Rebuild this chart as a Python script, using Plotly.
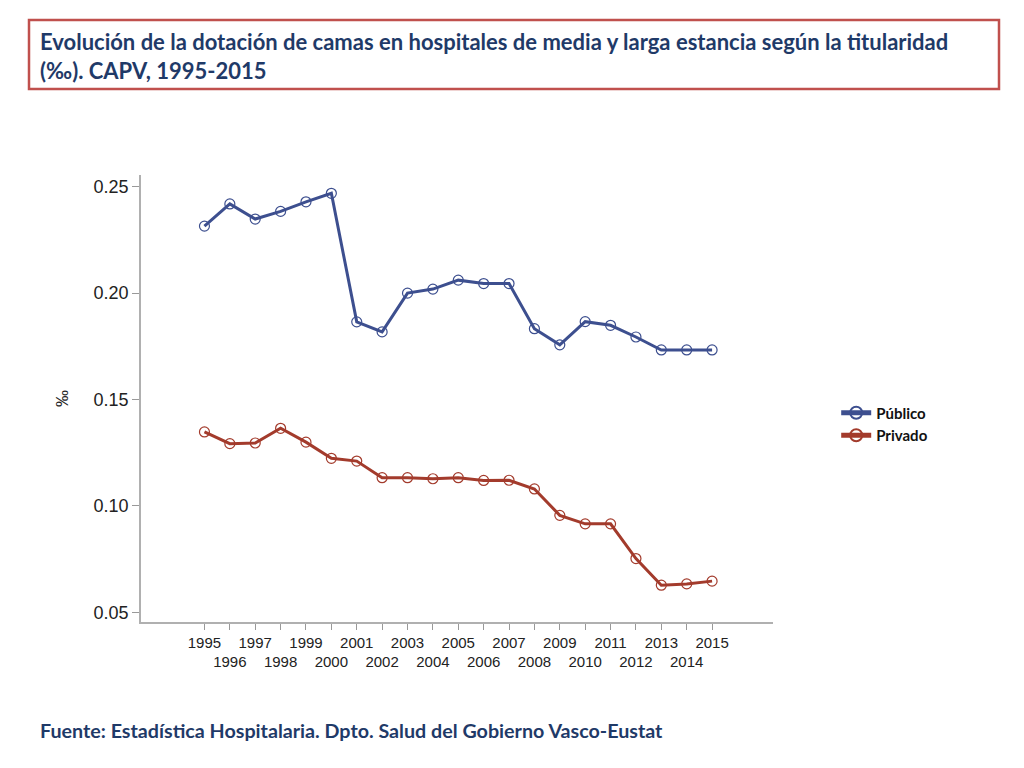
import plotly.graph_objects as go

# Datos (‰)
years = list(range(1995, 2016))
publico = [0.2315, 0.2419, 0.2348, 0.2384, 0.2429, 0.2469, 0.1865, 0.1818,
           0.2000, 0.2019, 0.2061, 0.2045, 0.2045, 0.1833, 0.1757, 0.1866,
           0.1849, 0.1794, 0.1733, 0.1733, 0.1733]
privado = [0.1348, 0.1293, 0.1296, 0.1365, 0.1300, 0.1224, 0.1211, 0.1133,
           0.1133, 0.1128, 0.1133, 0.1120, 0.1121, 0.1080, 0.0956, 0.0916,
           0.0916, 0.0753, 0.0628, 0.0634, 0.0647]
y_ticks = [0.05, 0.10, 0.15, 0.20, 0.25]
tick_text = [str(y) if y % 2 == 1 else "<br>" + str(y) for y in years]

title_text = ("Evolución de la dotación de camas en hospitales de media y larga estancia según la titularidad"
              "<br>(‰). CAPV, 1995-2015")
source_text = "Fuente: Estadística Hospitalaria. Dpto. Salud del Gobierno Vasco-Eustat"

blue = "#3d4f8f"
red = "#a33b2c"
navy = "#1f3a68"

# the page body adds an 8px offset, margins take that into account
fig = go.Figure()
fig.add_trace(go.Scatter(x=years, y=publico, name="Público", mode="lines+markers",
                         line=dict(color=blue, width=3),
                         marker=dict(symbol="circle-open", size=10, color=blue, line=dict(width=1.2))))
fig.add_trace(go.Scatter(x=years, y=privado, name="Privado", mode="lines+markers",
                         line=dict(color=red, width=3),
                         marker=dict(symbol="circle-open", size=10, color=red, line=dict(width=1.2))))

fig.update_layout(
    width=1024, height=768,
    paper_bgcolor="white", plot_bgcolor="white",
    margin=dict(l=133, r=259, t=167, b=154, autoexpand=False),
    font=dict(family="Liberation Sans, Arial, sans-serif", color="#222"),
    showlegend=True,
    legend=dict(x=1.10, y=0.443, xanchor="left", yanchor="middle",
                font=dict(family="Lato, Open Sans, sans-serif", size=15, color="#111", weight="bold"),
                tracegroupgap=0, itemsizing="constant"),
    xaxis=dict(range=[1992.5, 2017.4], tickvals=years, ticktext=tick_text, tickangle=0,
               automargin=False,
               showgrid=False, zeroline=False, showline=True, linecolor="#b0b0b0", linewidth=1.5,
               ticks="outside", ticklen=6, tickcolor="#999", tickfont=dict(size=15, color="#222")),
    yaxis=dict(range=[0.0455, 0.2555], tickvals=y_ticks, ticktext=["0.05", "0.10", "0.15", "0.20", "0.25"],
               automargin=False,
               showgrid=False, zeroline=False, showline=True, linecolor="#b0b0b0", linewidth=1.5,
               ticks="outside", ticklen=7, tickcolor="#999", tickfont=dict(size=18, color="#222")),
    shapes=[dict(type="rect", xref="paper", yref="paper",
                 x0=(29 - 141) / 632, x1=(999 - 141) / 632,
                 y0=1 + (175 - 89) / 447, y1=1 + (175 - 20) / 447,
                 line=dict(color="#c0504d", width=2.5))],
    annotations=[
        dict(text=title_text, xref="paper", yref="paper", x=(38 - 141) / 632, y=1 + (175 - 56) / 447,
             xanchor="left", yanchor="middle", align="left", showarrow=False,
             font=dict(family="Lato, Open Sans, sans-serif", size=22, color=navy, weight="bold")),
        dict(text=source_text, xref="paper", yref="paper", x=(38 - 141) / 632, y=-(730 - 622) / 447,
             xanchor="left", yanchor="middle", showarrow=False,
             font=dict(family="Lato, Open Sans, sans-serif", size=19.7, color=navy, weight="bold")),
        dict(text="‰", xref="paper", yref="paper", x=(62 - 141) / 632, y=(622 - 399) / 447,
             xanchor="center", yanchor="middle", textangle=-90, showarrow=False,
             font=dict(size=17, color="#222")),
    ],
)

fig.write_html("out.html")
